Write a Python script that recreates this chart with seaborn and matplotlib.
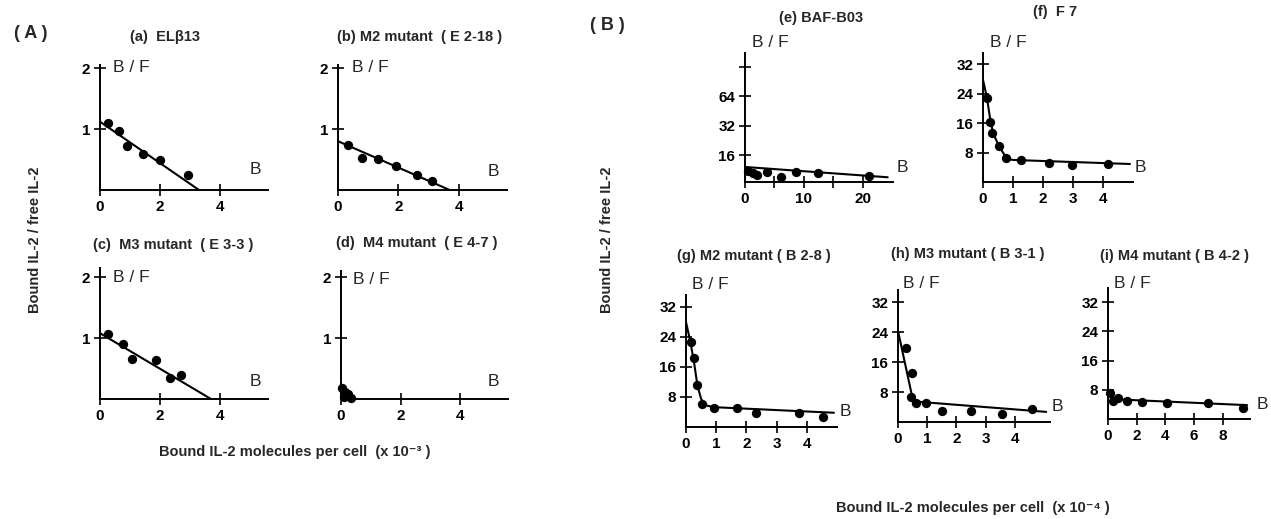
import numpy as np
import pandas as pd
import matplotlib
matplotlib.use("Agg")
import matplotlib.pyplot as plt
import seaborn as sns

# ---- data ----
# panel A (x 10^-3)
a_x = [0.27, 0.63, 0.9, 1.43, 2.0, 2.93]
a_y = [1.1, 0.97, 0.72, 0.59, 0.49, 0.25]
a_fit_x = [0, 3.3]
a_fit_y = [1.12, 0]

b_x = [0.33, 0.8, 1.33, 1.93, 2.63, 3.1]
b_y = [0.74, 0.52, 0.51, 0.39, 0.25, 0.15]
b_fit_x = [0, 3.7]
b_fit_y = [0.8, 0]

c_x = [0.27, 0.77, 1.07, 1.87, 2.33, 2.7]
c_y = [1.07, 0.9, 0.66, 0.64, 0.34, 0.39]
c_fit_x = [0, 3.7]
c_fit_y = [1.08, 0]

d_x = [0.05, 0.15, 0.1, 0.25, 0.35]
d_y = [0.18, 0.12, 0.03, 0.08, 0.02]

# panel B (x 10^-4)
e_x = [0.5, 1.4, 2.0, 3.7, 6.1, 8.6, 12.4, 21.0]
e_y = [11.0, 10.4, 10.0, 10.7, 9.5, 10.7, 10.4, 9.7]
e_fit_x = [0, 24.2]
e_fit_y = [12.1, 9.5]

f_x = [0.13, 0.23, 0.3, 0.53, 0.77, 1.27, 2.2, 2.97, 4.17]
f_y = [22.9, 16.3, 13.3, 9.8, 6.5, 6.0, 5.2, 4.6, 4.9]
f_fit_x = [0, 0.13, 0.25, 0.35, 0.55, 0.8, 1.0, 4.9]
f_fit_y = [27.8, 23, 16.5, 13, 9.5, 6.3, 6.0, 4.9]

g_x = [0.17, 0.26, 0.36, 0.53, 0.92, 1.68, 2.31, 3.73, 4.55]
g_y = [22.7, 18.4, 11.2, 6.1, 5.1, 5.1, 3.7, 3.7, 2.7]
g_fit_x = [0, 0.15, 0.27, 0.38, 0.5, 0.65, 0.9, 4.9]
g_fit_y = [28, 22.5, 17, 11, 7.5, 5.8, 5.3, 3.8]

h_x = [0.28, 0.48, 0.45, 0.62, 0.97, 1.5, 2.5, 3.55, 4.6]
h_y = [19.7, 13.1, 6.7, 5.1, 5.1, 2.9, 2.9, 2.1, 3.5]
h_fit_x = [0, 0.52, 5.07]
h_fit_y = [24.3, 5.5, 2.7]

i_x = [0.14, 0.35, 0.7, 1.3, 2.4, 4.1, 7.0, 9.4]
i_y = [7.2, 5.0, 5.8, 5.0, 4.7, 4.4, 4.4, 3.0]
i_fit_x = [0, 0.5, 9.7]
i_fit_y = [7.5, 5.4, 3.8]

sns.set_style("ticks")
plt.rcParams['font.family'] = ['Liberation Sans', 'DejaVu Sans']
plt.rcParams['font.weight'] = 'bold'

W, H = 1271, 519
fig = plt.figure(figsize=(W / 100, H / 100), dpi=100)


def px_axes(left, top, right, bottom):
    ax = fig.add_axes([left / W, 1 - bottom / H, (right - left) / W, (bottom - top) / H])
    sns.despine(ax=ax)
    for s in ['left', 'bottom']:
        ax.spines[s].set_linewidth(1.4)
        ax.spines[s].set_color('black')
    ax.tick_params(direction='inout', length=8, width=1.2, labelsize=11,
                   colors='black', pad=3)
    ax.set_facecolor('none')
    return ax


def panel(ax, x, y, fx=None, fy=None):
    df = pd.DataFrame({'x': x, 'y': y})
    sns.scatterplot(data=df, x='x', y='y', ax=ax, color='black', s=45,
                    edgecolor='black', linewidth=0, clip_on=False, zorder=3)
    if fx is not None:
        fit = pd.DataFrame({'x': fx, 'y': fy})
        sns.lineplot(data=fit, x='x', y='y', ax=ax, color='black', lw=1.5,
                     sort=False, estimator=None)
    ax.set_xlabel('')
    ax.set_ylabel('')


def ftext(px, py, s, **kw):
    fig.text(px / W, 1 - py / H, s, ha='center', va='center',
             fontweight='bold', **kw)


BF = 'B / F'

# ---- panel A ----
A = [
    (px_axes(100, 65, 268, 190), a_x, a_y, a_fit_x, a_fit_y, 2.05, (0.077, 0.976), (0.923, 0.16)),
    (px_axes(338, 65, 507, 190), b_x, b_y, b_fit_x, b_fit_y, 2.05, (0.083, 0.976), (0.917, 0.144)),
    (px_axes(100, 268, 268, 399), c_x, c_y, c_fit_x, c_fit_y, 2.15, (0.077, 0.931), (0.923, 0.13)),
    (px_axes(341, 271, 508, 399), d_x, d_y, None, None, 2.1, (0.072, 0.9375), (0.91, 0.133)),
]
for ax, x, y, fx, fy, ytop, bf, bpos in A:
    panel(ax, x, y, fx, fy)
    ax.set_xlim(0, 5.6)
    ax.set_ylim(0, ytop)
    ax.set_xticks([0, 2, 4])
    ax.set_yticks([1, 2])
    ax.text(bf[0], bf[1], BF, transform=ax.transAxes, ha='left', va='center',
            fontsize=12.5, fontweight='normal')
    ax.text(bpos[0], bpos[1], 'B', transform=ax.transAxes, ha='center', va='center',
            fontsize=12.5, fontweight='normal')

# ---- panel B ----
ax_e = px_axes(745, 53, 893, 182)
panel(ax_e, e_x, e_y, e_fit_x, e_fit_y)
ax_e.set_yscale('log', base=2)
ax_e.set_ylim(8.5, 176)
ax_e.set_yticks([16, 32, 64, 128])
ax_e.set_yticklabels(['16', '32', '64', ''])
ax_e.minorticks_off()
ax_e.set_xlim(0, 25.1)
ax_e.set_xticks([0, 5, 10, 15, 20])
ax_e.set_xticklabels(['0', '', '10', '', '20'])

B = [
    (ax_e, (0.17, 1.078), (1.06, 0.11)),
    (px_axes(983, 53, 1133, 182), (0.167, 1.078), (1.047, 0.116)),
    (px_axes(686, 295, 837, 427), (0.159, 1.076), (1.053, 0.121)),
    (px_axes(898, 290, 1050, 422), (0.151, 1.053), (1.046, 0.114)),
    (px_axes(1108, 288, 1250, 419), (0.169, 1.038), (1.085, 0.107)),
]
ax_f, ax_g, ax_h, ax_i = [b[0] for b in B[1:]]
panel(ax_f, f_x, f_y, f_fit_x, f_fit_y)
panel(ax_g, g_x, g_y, g_fit_x, g_fit_y)
panel(ax_h, h_x, h_y, h_fit_x, h_fit_y)
panel(ax_i, i_x, i_y, i_fit_x, i_fit_y)

for ax, xmax, ymax in [(ax_f, 5.0, 35.1), (ax_g, 5.0, 35.2), (ax_h, 5.2, 35.2)]:
    ax.set_xlim(0, xmax)
    ax.set_ylim(0, ymax)
    ax.set_xticks([0, 1, 2, 3, 4])
    ax.set_yticks([8, 16, 24, 32])
ax_i.set_xlim(0, 9.9)
ax_i.set_ylim(0, 35.9)
ax_i.set_xticks([0, 2, 4, 6, 8])
ax_i.set_yticks([8, 16, 24, 32])

for ax, bf, bpos in B:
    ax.text(bf[0], bf[1], BF, transform=ax.transAxes, ha='center', va='center',
            fontsize=12.5, fontweight='normal')
    ax.text(bpos[0], bpos[1], 'B', transform=ax.transAxes, ha='center', va='center',
            fontsize=12.5, fontweight='normal')

# ---- titles and labels ----
ftext(31, 33, '( A )', fontsize=13)
ftext(607, 25, '( B )', fontsize=13)

ftext(165, 37, '(a)  ELβ13', fontsize=10.5)
ftext(420, 37, '(b) M2 mutant  ( E 2-18 )', fontsize=10.5)
ftext(173, 245, '(c)  M3 mutant  ( E 3-3 )', fontsize=10.5)
ftext(417, 243, '(d)  M4 mutant  ( E 4-7 )', fontsize=10.5)
ftext(821, 18, '(e) BAF-B03', fontsize=10.5)
ftext(1055, 12, '(f)  F 7', fontsize=10.5)
ftext(754, 256, '(g) M2 mutant ( B 2-8 )', fontsize=10.5)
ftext(968, 254, '(h) M3 mutant ( B 3-1 )', fontsize=10.5)
ftext(1174, 256, '(i) M4 mutant ( B 4-2 )', fontsize=10.5)

ftext(35, 240, 'Bound IL-2 / free IL-2', fontsize=10.5, rotation=90)
ftext(607, 240, 'Bound IL-2 / free IL-2', fontsize=10.5, rotation=90)
ftext(295, 452, 'Bound IL-2 molecules per cell  (x 10⁻³ )', fontsize=10.5)
ftext(973, 508, 'Bound IL-2 molecules per cell  (x 10⁻⁴ )', fontsize=10.5)

fig.savefig('out.png', dpi=100)
